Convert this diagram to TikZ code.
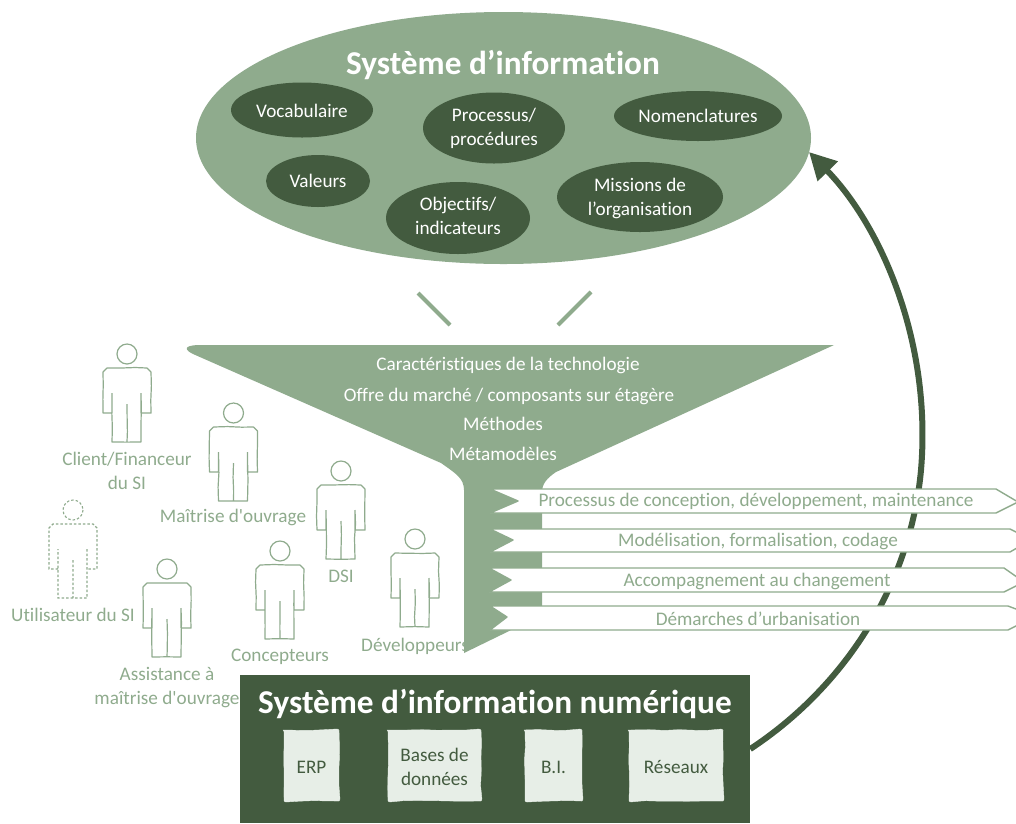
\documentclass[tikz,border=0pt]{standalone}
\usepackage{fontspec}
\setmainfont{Carlito}[Ligatures=TeXOff,RawFeature={-liga}]
\usetikzlibrary{arrows.meta,decorations.pathmorphing,shapes.geometric}
\definecolor{sage}{HTML}{8FAB8D}
\definecolor{forest}{HTML}{435B3F}
\definecolor{pale}{HTML}{E7EEE7}
\pgfmathsetseed{7}
\tikzset{
  sketch/.style={decorate,decoration={random steps,segment length=14pt,amplitude=0.5pt}},
  txt/.style={font=\fontsize{19.2}{24}\selectfont,align=center,inner sep=0pt},
  whitetxt/.style={txt,text=white},
  sagetxt/.style={txt,text=sage},
  darktxt/.style={txt,text=forest},
  bigtitle/.style={font=\fontsize{33.3}{36}\bfseries\selectfont,text=white,inner sep=0pt},
  blob/.style={ellipse,fill=forest,minimum width=0pt,inner sep=0pt},
  chevron/.style={draw=sage,fill=white,line width=1.4pt,line join=round},
  brick/.style={fill=pale,draw=pale,rounded corners=2pt,sketch},
  person/.pic={
    \draw[sage,line width=1.2pt,line join=round] (0,0) circle (10);
    \draw[sage,line width=1.2pt,line join=round,sketch]
      (-15,39) -- (-15,59) -- (-24,59) -- (-24,18) -- (-20,14) -- (20,14) -- (24,18) -- (24,59) -- (14,59) -- (14,39)
      (14,39) -- (14,88) -- (-15,88) -- (-15,39)
      (0,50) -- (0,88);
  }
}
\begin{document}
\begin{tikzpicture}[x=1pt,y=-1pt]
\useasboundingbox (0,0) rectangle (1016,823);
\clip (0,0) rectangle (1016,823);

% big ellipse
\node[ellipse,fill=sage,minimum width=615pt,minimum height=252pt,inner sep=0pt] (si) at (503.5,138) {};
\node[bigtitle] (sititle) at (503,65) {Système d’information};

\node[blob,minimum width=142pt,minimum height=55pt] (e1) at (302,110) {};
\node[whitetxt] (t1) at (302,110.5) {Vocabulaire};
\node[blob,minimum width=142pt,minimum height=71pt] (e2) at (494,128) {};
\node[whitetxt] (t2) at (494,128.5) {Processus/\\procédures};
\node[blob,minimum width=168pt,minimum height=50pt] (e3) at (698,116) {};
\node[whitetxt] (t3) at (698,116) {Nomenclatures};
\node[blob,minimum width=104pt,minimum height=52pt] (e4) at (318,181) {};
\node[whitetxt] (t4) at (318,181) {Valeurs};
\node[blob,minimum width=144pt,minimum height=72pt] (e5) at (458,218) {};
\node[whitetxt] (t5) at (458,216) {Objectifs/\\indicateurs};
\node[blob,minimum width=166pt,minimum height=70pt] (e6) at (640,197) {};
\node[whitetxt] (t6) at (640,198) {Missions de\\l’organisation};

% small strokes between ellipse and funnel
\coordinate (la) at (418,293);
\coordinate (lb) at (450,325);
\coordinate (ra) at (591,292);
\coordinate (rb) at (558,325);
\draw[sage,line width=4pt] (la) -- (lb);
\draw[sage,line width=4pt] (ra) -- (rb);

% curved arrow
\node[fill=forest,minimum width=510pt,minimum height=148pt,inner sep=0pt] (sin) at (495,749) {};
\coordinate (arrowend) at (809,152);
\draw[forest,line width=6pt,-{Triangle[length=27pt,width=27pt]}]
  (sin.east) .. controls (840,690) and (910,590) .. (921,470)
  .. controls (932,340) and (880,225) .. (arrowend);

% people labels (developer label lies under the funnel)
\node[sagetxt] (ldev) at (415,646) {Développeurs};

% funnel
\fill[sage] (197,345) -- (834,345) -- (556,472)
  .. controls (547,478) and (542,484) .. (542,492)
  -- (542,615) -- (464,653) -- (464,490)
  .. controls (464,478) and (455,473) .. (441,463)
  -- (193,354) .. controls (185,350) and (183,346) .. (197,345) -- cycle;
\node[whitetxt] (f1) at (508,365) {Caractéristiques de la technologie};
\node[whitetxt] (f2) at (509,396) {Offre du marché / composants sur étagère};
\node[whitetxt] (f3) at (503,423.5) {Méthodes};
\node[whitetxt] (f4) at (503,454) {Métamodèles};

% chevrons
\path[chevron] (490,489) -- (518,501) -- (490,513) -- (996,513) -- (1018,502) -- (996,489) -- cycle;
\node[sagetxt] (c1) at (756,501.5) {Processus de conception, développement, maintenance};
\path[chevron] (490,529) -- (513,540) -- (490,552) -- (1010,552) -- (1022,545) -- (1022,535) -- (1010,529) -- cycle;
\node[sagetxt] (c2) at (758,541) {Modélisation, formalisation, codage};
\path[chevron] (489,568) -- (511,580) -- (489,592) -- (1004,592) -- (1024,582) -- (1004,568) -- cycle;
\node[sagetxt] (c3) at (757,581.5) {Accompagnement au changement};
\path[chevron] (490,606) -- (507,617) -- (490,630) -- (1008,630) -- (1024,622) -- (1024,612) -- (1008,606) -- cycle;
\node[sagetxt] (c4) at (758,618.5) {Démarches d’urbanisation};

% people
\pic at (127,354) {person};
\pic at (233.5,413) {person};
\pic at (341,471) {person};
\pic at (280,551) {person};
\pic at (415,539) {person};
\pic at (167,569) {person};
\draw[sage,line width=1.1pt,dash pattern=on 2.5pt off 2pt] (73,510) circle (10);
\draw[sage,line width=1.1pt,dash pattern=on 2.5pt off 2pt]
  (58,569) -- (49,569) -- (49,528) -- (53,524) -- (93,524) -- (97,528) -- (97,569) -- (87,569)
  (87,549) -- (87,598) -- (58,598) -- (58,549)
  (73,560) -- (73,598);
\node[sagetxt] (l1) at (127,471) {Client/Financeur\\du SI};
\node[sagetxt] (l2) at (233,517) {Maîtrise d'ouvrage};
\node[sagetxt] (l3) at (341,576) {DSI};
\node[sagetxt] (l4) at (280,657) {Concepteurs};
\node[sagetxt] (l5) at (73,615) {Utilisateur du SI};
\node[sagetxt] (l6) at (167,687.5) {Assistance à\\maîtrise d'ouvrage};

% bottom box
\node[bigtitle] (sintitle) at (495,703.5) {Système d’information numérique};
\path[brick] (284,730) rectangle (339,801);
\node[darktxt] (b1) at (311.5,767) {ERP};
\path[brick] (388,730) rectangle (481,801);
\node[darktxt] (b2) at (434.5,767) {Bases de\\données};
\path[brick] (525,730) rectangle (582,801);
\node[darktxt] (b3) at (553.5,767) {B.I.};
\path[brick] (629,730) rectangle (723,801);
\node[darktxt] (b4) at (676,767) {Réseaux};
\end{tikzpicture}
\end{document}
